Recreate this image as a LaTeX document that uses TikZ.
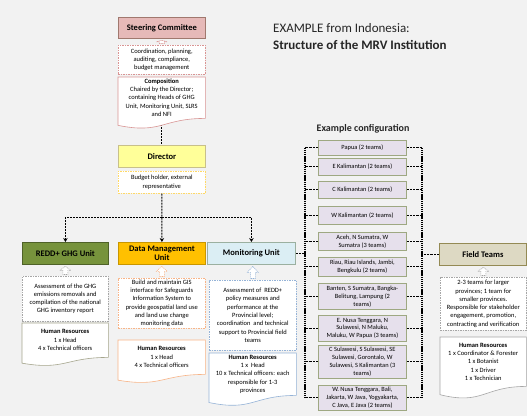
\documentclass[tikz,border=0pt]{standalone}
\usepackage{fontspec}
\setmainfont{Carlito}
\usetikzlibrary{calc,arrows.meta}

\definecolor{pagegrey}{RGB}{242,242,242}
\definecolor{steerfill}{RGB}{230,185,184}
\definecolor{steeredge}{RGB}{160,120,110}
\definecolor{pinkline}{RGB}{217,149,148}
\definecolor{dirfill}{RGB}{255,255,153}
\definecolor{diredge}{RGB}{200,192,138}
\definecolor{yellowline}{RGB}{255,217,102}
\definecolor{reddfill}{RGB}{119,147,60}
\definecolor{reddedge}{RGB}{79,98,40}
\definecolor{greyline}{RGB}{166,166,166}
\definecolor{oliveline}{RGB}{165,165,140}
\definecolor{dmfill}{RGB}{255,192,0}
\definecolor{dmedge}{RGB}{200,150,0}
\definecolor{orangeline}{RGB}{248,180,135}
\definecolor{monfill}{RGB}{219,238,244}
\definecolor{monedge}{RGB}{155,176,160}
\definecolor{blueline}{RGB}{149,179,215}
\definecolor{fieldfill}{RGB}{221,217,195}
\definecolor{fieldedge}{RGB}{148,138,84}
\definecolor{cfgfill}{RGB}{230,224,236}
\definecolor{cfgedge}{RGB}{158,168,130}
\definecolor{titletext}{RGB}{38,38,38}

\pgfdeclarelayer{page}
\pgfdeclarelayer{shapes}
\pgfsetlayers{page,shapes,main}

\tikzset{
  txt/.style={font=\fontsize{6.5}{8.3}\selectfont, align=center, inner sep=1pt, anchor=north west},
  unitbox/.style={draw, line width=0.8pt, font=\fontsize{8.5}{9.5}\selectfont\bfseries,
    align=center, anchor=north west, inner sep=1pt},
  descbox/.style={txt, draw, fill=white, line width=0.6pt, dash pattern=on 1.5pt off 1pt},
  docbox/.style={txt},
  cfg/.style={draw=cfgedge, fill=cfgfill, line width=0.8pt, font=\fontsize{6.4}{7.9}\selectfont,
    align=center, anchor=north west, inner sep=0.5pt, minimum width=88},
  busline/.style={line width=1pt, dash pattern=on 2pt off 1pt},
  tip/.style={-{Stealth[length=4pt,width=4.5pt]}},
  cfgline/.style={line width=0.9pt, dash pattern=on 2.2pt off 1pt},
  cfgbus/.style={line width=1.2pt, dash pattern=on 1.2pt off 0.7pt},
}

% wavy-bottomed document outline behind a text node
\newcommand\docoutline[2]{%
  \begin{pgfonlayer}{shapes}
  \draw[#2, fill=white, line width=0.6pt]
    let \p1=(#1.north west), \p2=(#1.south east), \n1={\y1-\y2} in
    (\p1) -- (\x2,\y1) -- (\p2)
    .. controls ({(\x1+\x2)/2},\y2) and ({(\x1+\x2)/2},{\y2-0.384*\n1}) ..
    (\x1,{\y2-0.1675*\n1}) -- cycle;
  \end{pgfonlayer}}

% small hollow up-arrow between a lower node and an upper node
\newcommand\hollowup[3]{%
  \begin{pgfonlayer}{shapes}
  \draw[#3, fill=white, line width=0.6pt, dash pattern=on 1pt off 0.8pt]
    let \p1=(#1.north), \p2=(#2.south), \n1={\y2-\y1} in
    ({\x1-2.5},{\y1+1.5}) -- ({\x1-2.5},{\y1+0.5*\n1}) -- ({\x1-5.5},{\y1+0.5*\n1})
    -- (\x1,{\y2-1.5}) -- ({\x1+5.5},{\y1+0.5*\n1}) -- ({\x1+2.5},{\y1+0.5*\n1})
    -- ({\x1+2.5},{\y1+1.5}) -- cycle;
  \end{pgfonlayer}}

\begin{document}
\begin{tikzpicture}[x=1pt,y=-1pt]
\useasboundingbox (0,0) rectangle (527,416);
\begin{pgfonlayer}{page}
  \fill[pagegrey] (0,0) rectangle (527,416);
\end{pgfonlayer}

% title
\node[anchor=west, inner sep=0, font=\fontsize{13}{15}\selectfont, text=titletext] (t1) at (273,28) {EXAMPLE from Indonesia:};
\node[anchor=west, inner sep=0, font=\fontsize{13}{15}\selectfont\bfseries, text=titletext] (t2) at (273,45) {Structure of the MRV Institution};

% steering committee and director column
\node[unitbox, fill=steerfill, draw=steeredge, minimum width=87, minimum height=21] (steer) at (118,17) {Steering Committee};
\node[descbox, draw=pinkline, minimum width=87, minimum height=29] (coord) at (118,45)
  {Coordination, planning,\\auditing, compliance,\\budget management};
\node[docbox, minimum width=87, minimum height=41] (comp) at (118,77)
  {\textbf{Composition}\\Chaired by the Director;\\containing Heads of GHG\\Unit, Monitoring Unit, SLRS\\and NFI};
\docoutline{comp}{pinkline}
\hollowup{coord}{steer}{pinkline}

\node[unitbox, fill=dirfill, draw=diredge, minimum width=87, minimum height=22] (dir) at (118,145) {Director};
\node[descbox, draw=yellowline, minimum width=87, minimum height=22] (budget) at (118,171)
  {Budget holder, external\\representative};

\begin{pgfonlayer}{page}
  \draw[busline] (comp.south) -- (comp.south |- dir.north);
\end{pgfonlayer}

% units
\node[unitbox, fill=reddfill, draw=reddedge, minimum width=86, minimum height=22] (redd) at (22,242) {REDD+ GHG Unit};
\node[unitbox, fill=dmfill, draw=dmedge, minimum width=87, minimum height=22] (dm) at (118,242) {Data Management\\Unit};
\node[unitbox, fill=monfill, draw=monedge, minimum width=88, minimum height=22] (mon) at (207,242) {Monitoring Unit};
\node[unitbox, fill=fieldfill, draw=fieldedge, minimum width=87, minimum height=22] (field) at (439,243) {Field Teams};

% director to units
\coordinate (bus) at (dm.north |- 0,217);
\draw[busline, tip] (budget.south) -- (dm.north);
\draw[busline, tip] (bus) -| (redd.north);
\draw[busline, tip] (bus) -| (mon.north);

% REDD+ GHG unit details
\node[descbox, draw=greyline, minimum width=86, minimum height=45] (reddd) at (22,276)
  {Assessment of the GHG\\emissions removals and\\compilation of the national\\GHG inventory report};
\hollowup{reddd}{redd}{greyline}
\node[docbox, minimum width=86, minimum height=34] (reddhr) at (22,323)
  {\textbf{Human Resources}\\1 x Head\\4 x Technical officers};
\docoutline{reddhr}{oliveline}

% data management unit details
\node[descbox, draw=orangeline, minimum width=87, minimum height=50] (dmd) at (118,278)
  {Build and maintain GIS\\interface for Safeguards\\Information System to\\provide geospatial land use\\and land use change\\monitoring data};
\hollowup{dmd}{dm}{orangeline}
\node[docbox, minimum width=87, minimum height=34] (dmhr) at (118,340)
  {\textbf{Human Resources}\\1 x Head\\4 x Technical officers};
\docoutline{dmhr}{orangeline}

% monitoring unit details
\node[descbox, draw=blueline, minimum width=87, minimum height=70] (mond) at (209,280)
  {Assessment of \ REDD+\\policy measures and\\performance at the\\Provincial level;\\coordination \ and technical\\support to Provincial field\\teams};
\hollowup{mond}{mon}{blueline}
\node[docbox, minimum width=87, minimum height=42] (monhr) at (209,353)
  {\textbf{Human Resources}\\1 x \ Head\\10 x Technical officers: each\\responsible for 1-3\\provinces};
\docoutline{monhr}{blueline}

% field team details
\node[descbox, draw=greyline, minimum width=86, minimum height=53] (fieldd) at (440,277)
  {2-3 teams for larger\\provinces; 1 team for\\smaller provinces.\\Responsible for stakeholder\\engagement, promotion,\\contracting and verification};
\hollowup{fieldd}{field}{greyline}
\node[docbox, minimum width=86, minimum height=49] (fieldhr) at (440,337)
  {\textbf{Human Resources}\\1 x Coordinator \& Forester\\1 x Botanist\\1 x Driver\\1 x Technician};
\docoutline{fieldhr}{greyline}

% example configuration of provincial teams
\node[inner sep=0, font=\fontsize{10}{12}\selectfont\bfseries, text=titletext] (cfgtitle) at (363,129) {Example configuration};
\node[cfg, minimum height=15] (c1) at (318,140) {Papua (2 teams)};
\node[cfg, minimum height=17] (c2) at (318,158) {E Kalimantan (2 teams)};
\node[cfg, minimum height=17] (c3) at (318,181) {C Kalimantan (2 teams)};
\node[cfg, minimum height=18] (c4) at (318,206) {W Kalimantan (2 teams)};
\node[cfg, minimum height=18] (c5) at (318,232) {Aceh, N Sumatra, W\\Sumatra (3 teams)};
\node[cfg, minimum height=19] (c6) at (318,257) {Riau, Riau Islands, Jambi,\\Bengkulu (2 teams)};
\node[cfg, minimum height=26] (c7) at (318,283) {Banten, S Sumatra, Bangka-\\Belitung, Lampung (2\\teams)};
\node[cfg, minimum height=26] (c8) at (318,315) {E. Nusa Tenggara, N\\Sulawesi, N Maluku,\\Maluku, W Papua (3 teams)};
\node[cfg, minimum height=33] (c9) at (318,345) {C Sulawesi, S Sulawesi, SE\\Sulawesi, Gorontalo, W\\Sulawesi, S Kalimantan (3\\teams)};
\node[cfg, minimum height=25] (c10) at (318,385) {W. Nusa Tenggara, Bali,\\Jakarta, W Java, Yogyakarta,\\C Java, E Java (2 teams)};

\coordinate (lb) at (305,0);
\coordinate (rb) at (422,0);
\foreach \c in {c1,c2,c3,c4,c5,c6,c7,c8,c9,c10}{
  \draw[cfgline] (\c.west) -- (\c.west -| lb);
  \draw[cfgline] (\c.east) -- (\c.east -| rb);
}
\draw[cfgbus] (c1.west -| lb) -- (c10.west -| lb);
\draw[cfgbus] (c1.east -| rb) -- (c10.east -| rb);
\draw[cfgline] (mon.east) -- (mon.east -| lb);
\draw[cfgline] (field.west) -- (field.west -| rb);
\end{tikzpicture}
\end{document}
